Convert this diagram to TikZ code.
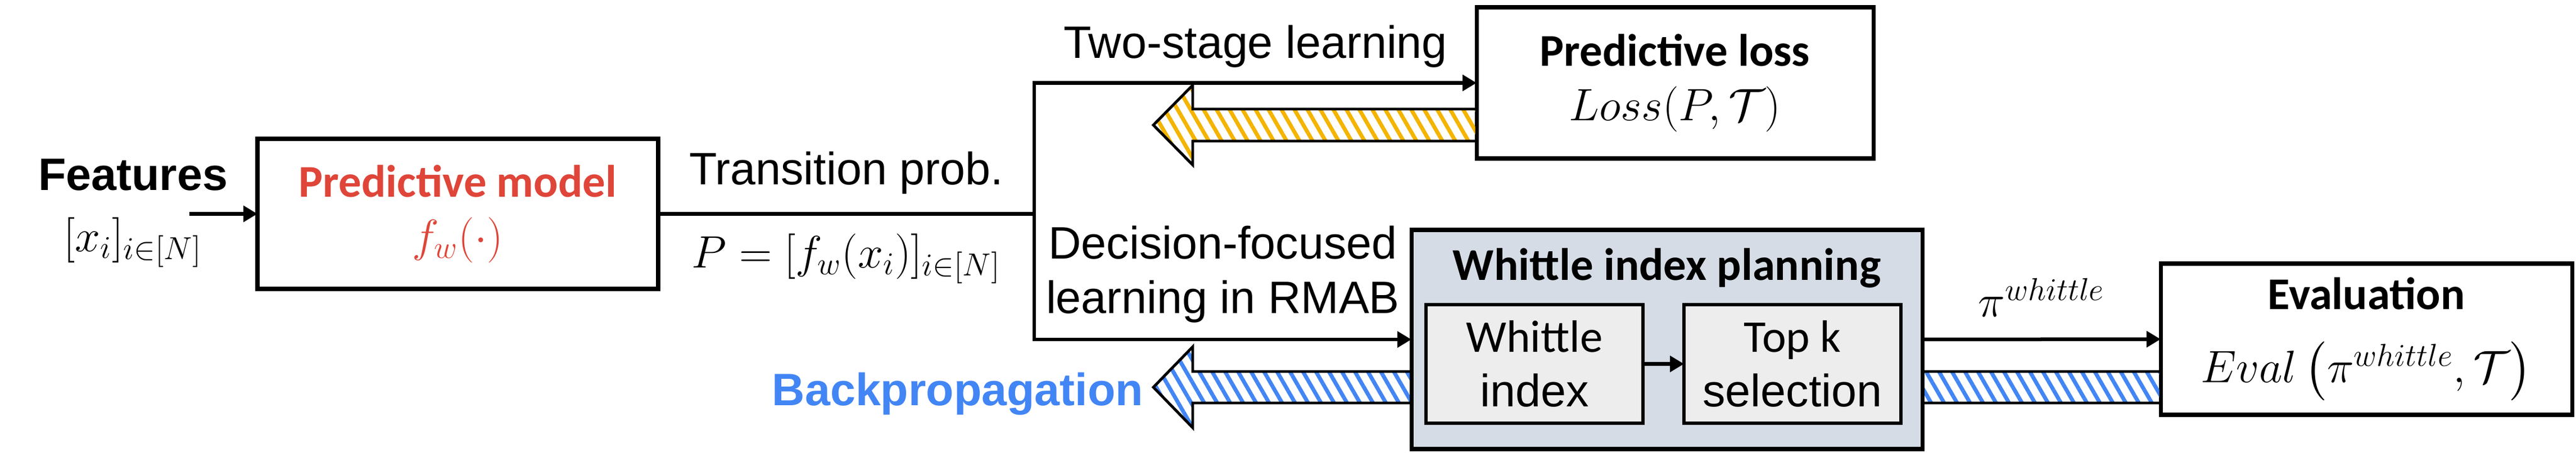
\RequirePackage{fix-cm}
\documentclass[tikz,border=0pt]{standalone}
\usepackage{amsmath}
\usepackage[no-math]{fontspec}
\setmainfont{Liberation Sans}
\newfontfamily\calibri{Carlito}
\usepackage{xcolor}
\usepackage{tikz}
\usetikzlibrary{positioning,calc,arrows.meta,patterns.meta}

\definecolor{predred}{RGB}{223,69,57}
\definecolor{bpblue}{RGB}{66,133,244}
\definecolor{tsyellow}{RGB}{244,180,0}
\definecolor{planfill}{RGB}{214,220,229}
\definecolor{subfill}{RGB}{237,237,237}
\newcommand{\figfont}{\fontsize{23}{27.6}\selectfont}

\begin{document}
\begin{tikzpicture}[every node/.style={outer sep=0pt,inner sep=0pt,font=\figfont}]
\tikzset{carrow/.style={-{Triangle[length=0.25cm,width=0.28cm]},line width=1.85pt}}
\tikzset{cline/.style={line width=1.85pt}}
\tikzset{bbox/.style={draw,line width=2pt,align=center}}
\tikzset{hollow/.style={draw,line width=1.4pt,line join=miter,pattern={Lines[angle=-60,distance=0.2cm,line width=0.07cm]}}}

\useasboundingbox (0,0) rectangle (45.83,-8.06);

  \node(FT) [anchor=base] at (2.365,-3.39) {\textbf{Features}};
  \node(FX) [below=0.47cm of FT] {$[x_i]_{i\in[N]}$};

  \node(PM) [bbox,text=predred,minimum width=7.13cm,minimum height=2.67cm] at (8.145,-3.805)
      {\textbf{\calibri Predictive model}\\$f_w(\cdot)$};
  \node(PL) [bbox,minimum width=7.06cm,minimum height=2.69cm] at (29.80,-1.475)
      {\textbf{\calibri Predictive loss}\\$Loss(P,\mathcal{T})$};
  \node(EV) [bbox,minimum width=7.32cm,minimum height=2.69cm] at (42.10,-6.035)
      {\textbf{\calibri Evaluation}\\[9.5pt]$Eval\left(\pi^{whittle},\mathcal{T}\right)$};

% gradients going back
  \coordinate (YT) at (20.52,-2.225);
  \coordinate (BT) at (20.52,-6.89);
  \draw[hollow,pattern color=tsyellow] (YT) -- ++(0.70,0.71) -- ++(0,-0.425)
      -- ($(YT -| PL.west)+(0,0.285)$) -- ($(YT -| PL.west)+(0,-0.285)$)
      -- ($(YT)+(0.70,-0.285)$) -- ++(0,-0.425) -- cycle;
  \draw[hollow,pattern color=bpblue] (BT) -- ++(0.70,0.72) -- ++(0,-0.44)
      -- ($(BT -| EV.west)+(0,0.28)$) -- ($(BT -| EV.west)+(0,-0.28)$)
      -- ($(BT)+(0.70,-0.28)$) -- ++(0,-0.44) -- cycle;
  \node(BP) [left=0.18cm of BT,yshift=-0.12cm,text=bpblue] {\textbf{Backpropagation}};

  \node(WP) [bbox,fill=planfill,minimum width=9.09cm,minimum height=3.90cm] at (29.655,-6.04) {};
  \node(WPT) [below=0.33cm of WP.north] {\textbf{\calibri Whittle index planning}};
  \node(WI) [bbox,line width=1.7pt,fill=subfill,minimum width=3.86cm,minimum height=2.11cm] at (27.30,-6.475)
      {\calibri Whittle\\index};
  \node(TK) [bbox,line width=1.7pt,fill=subfill,minimum width=3.86cm,minimum height=2.11cm,right=0.73cm of WI]
      {\calibri Top k\\selection};

  \coordinate[left=1.21cm of PM.west] (FA);
  \coordinate (J) at (18.40,-3.805);
  \draw[carrow] (FA) -- (PM.west);
  \draw[cline] (PM.east) -- node[midway,above=0.35cm] {Transition prob.}
      node[midway,below=0.35cm] {$P=[f_w(x_i)]_{i\in[N]}$} (J);
  \draw[carrow] (J |- WP.west) |- node[pos=0.75,above=0.27cm] {Two-stage learning} (PL.west);
  \draw[carrow] (J) |- node[pos=0.75,above=0.3cm,align=center] {Decision-focused\\learning in RMAB} (WP.west);
  \draw[carrow] (WI.east) -- (TK.west);
  \draw[carrow] (WP.east) -- node[midway,above=0.4cm] {$\pi^{whittle}$} (EV.west);
\end{tikzpicture}
\end{document}
